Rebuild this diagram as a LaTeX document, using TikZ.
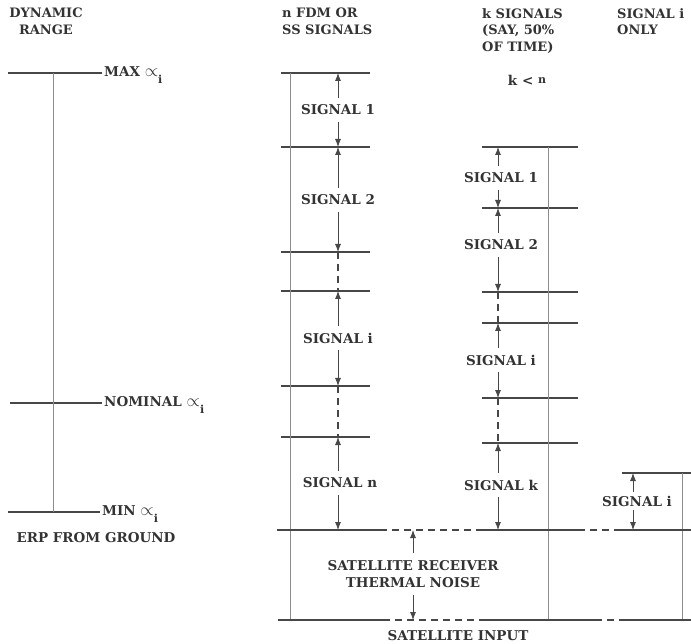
\documentclass[tikz,border=0pt]{standalone}
\usepackage{fontspec}
\setmainfont{DejaVu Serif}
\usetikzlibrary{arrows.meta,positioning}
\definecolor{Ink}{HTML}{333333}
\definecolor{Rule}{HTML}{474747}
\definecolor{Stem}{HTML}{8C8C8C}
\newcommand{\alphai}{{\fontsize{19}{19}\selectfont$\propto$}\raisebox{-7pt}{\fontsize{11}{11}\selectfont i}}
\tikzset{
  level/.style={draw=Rule, line width=1.2pt},
  stem/.style={draw=Stem, line width=0.8pt},
  gap/.style={draw=Rule, line width=1.2pt, dash pattern=on 7pt off 5pt},
  span/.style={-{Latex[length=8pt,width=6pt]}, draw=Rule, fill=Rule, line width=0.8pt},
  sig/.style={font=\fontsize{13.5}{17}\selectfont\bfseries, text=Ink, inner xsep=0pt, inner ysep=7pt},
  head/.style={font=\fontsize{13}{16.5}\selectfont\bfseries, text=Ink, align=left, anchor=north west, inner sep=0pt},
  tag/.style={font=\fontsize{13.5}{17}\selectfont\bfseries, text=Ink, anchor=west, inner sep=2pt}
}
\begin{document}
\begin{tikzpicture}[x=1pt,y=-1pt]
  \useasboundingbox (0,0) rectangle (691,644);
  \node[head, align=center, anchor=north] (hdyn) at (46,8) {DYNAMIC\\RANGE};
  \node[head] (hfdm) at (282,8) {n FDM OR\\SS SIGNALS};
  \node[head] (hk) at (482,8) {k SIGNALS\\(SAY, 50\%\\OF TIME)};
  \node[head] (hone) at (617,8) {SIGNAL i\\ONLY};
  \node[sig] (kn) at (527,80) {k < \raisebox{2pt}{\fontsize{11}{11}\selectfont n}};

  % dynamic range
  \coordinate (amax) at (53,73);
  \coordinate (anom) at (53,403);
  \coordinate (amin) at (53,512);
  \node[tag] (tmax) at (102,75) {MAX \alphai};
  \node[tag] (tnom) at (102,405) {NOMINAL \alphai};
  \node[tag] (tmin) at (100,514) {MIN \alphai};
  \draw[level] (8,73) -- (amax -| tmax.west);
  \draw[level] (10,403) -- (anom -| tnom.west);
  \draw[level] (8,512) -- (amin -| tmin.west);
  \draw[stem] (amax) -- (amin);
  \node[sig, inner ysep=2pt] (erp) at (96,538) {ERP FROM GROUND};

  % n signals
  \foreach \n/\y in {0/73,1/147,2/252,3/291,4/386,5/437}{
    \coordinate (b\n) at (338,\y);
    \draw[level] (281,\y) -- (370,\y);
  }
  \coordinate (bf) at (338,530);
  \coordinate (bb) at (338,620);
  \draw[stem] (290,73) -- (290,620);
  \node[sig] (bs1) at (338,110) {SIGNAL 1};
  \node[sig] (bs2) at (338,200) {SIGNAL 2};
  \node[sig] (bsi) at (338,338) {SIGNAL i};
  \node[sig] (bsn) at (340,483) {SIGNAL n};
  \draw[span] (bs1.north) -- (b0);
  \draw[span] (bs1.south) -- (b1);
  \draw[span] (bs2.north) -- (b1);
  \draw[span] (bs2.south) -- (b2);
  \draw[gap] (b2) -- (b3);
  \draw[span] (bsi.north) -- (b3);
  \draw[span] (bsi.south) -- (b4);
  \draw[gap] (b4) -- (b5);
  \draw[span] (bsn.north -| b5) -- (b5);
  \draw[span] (bsn.south -| bf) -- (bf);

  % k signals
  \foreach \n/\y in {0/147,1/208,2/292,3/323,4/398,5/443}{
    \coordinate (c\n) at (498,\y);
    \draw[level] (482,\y) -- (578,\y);
  }
  \coordinate (cf) at (498,530);
  \draw[stem] (548,147) -- (548,620);
  \node[sig] (cs1) at (501,178) {SIGNAL 1};
  \node[sig] (cs2) at (501,245) {SIGNAL 2};
  \node[sig] (csi) at (501,360) {SIGNAL i};
  \node[sig] (csk) at (501,485) {SIGNAL k};
  \draw[span] (cs1.north -| c0) -- (c0);
  \draw[span] (cs1.south -| c1) -- (c1);
  \draw[span] (cs2.north -| c1) -- (c1);
  \draw[span] (cs2.south -| c2) -- (c2);
  \draw[gap] (c2) -- (c3);
  \draw[span] (csi.north -| c3) -- (c3);
  \draw[span] (csi.south -| c4) -- (c4);
  \draw[gap] (c4) -- (c5);
  \draw[span] (csk.north -| c5) -- (c5);
  \draw[span] (csk.south -| cf) -- (cf);

  % signal i only
  \coordinate (d0) at (633,473);
  \coordinate (df) at (633,530);
  \draw[level] (622,473) -- (691,473);
  \draw[stem] (682,473) -- (682,620);
  \node[sig, inner ysep=4pt] (dsi) at (637,501) {SIGNAL i};
  \draw[span] (dsi.north -| d0) -- (d0);
  \draw[span] (dsi.south -| df) -- (df);

  % floor and input
  \draw[level] (277,530) -- (380,530);
  \draw[gap] (380,530) -- (483,530);
  \draw[level] (483,530) -- (578,530);
  \draw[gap] (578,530) -- (621,530);
  \draw[level] (621,530) -- (691,530);
  \draw[level] (278,620) -- (383,620);
  \draw[gap] (383,620) -- (485,620);
  \draw[level] (485,620) -- (595,620);
  \draw[gap] (595,620) -- (621,620);
  \draw[level] (621,620) -- (691,620);
  \node[sig, align=center] (noise) at (413,574) {SATELLITE RECEIVER\\THERMAL NOISE};
  \draw[span] (noise.north) -- (noise.north |- bf);
  \draw[span] (noise.south) -- (noise.south |- bb);
  \node[sig, inner ysep=2pt] (input) at (458,636) {SATELLITE INPUT};
\end{tikzpicture}
\end{document}
